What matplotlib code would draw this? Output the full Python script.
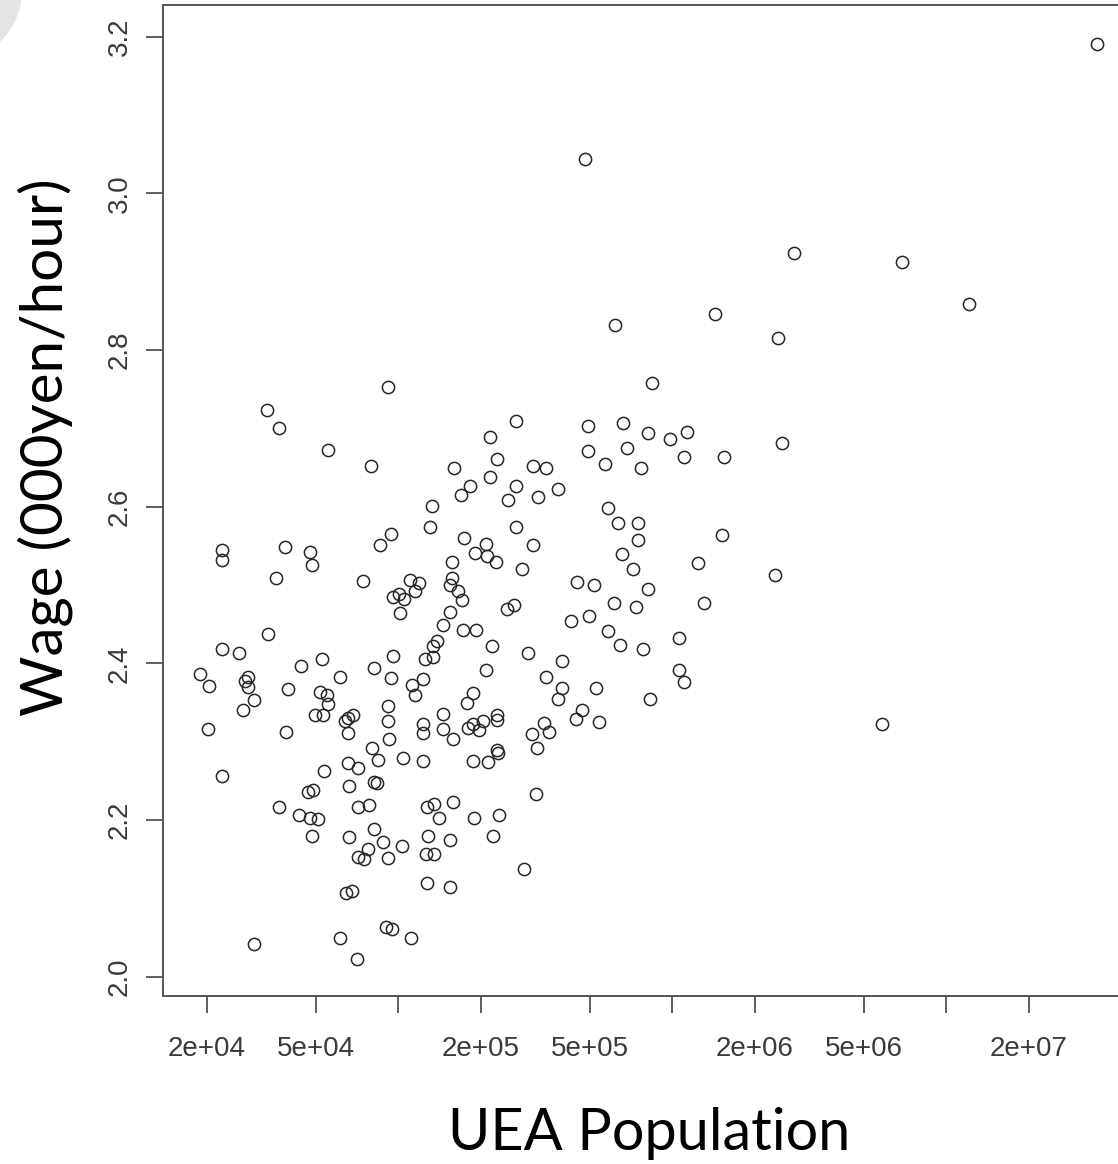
"""
Wage vs UEA population scatter (R base-graphics look).
"""

# IMPORTs alias
import numpy as np
import matplotlib
matplotlib.use('Agg')

# IMPORTs sub
import matplotlib.pyplot as plt
from matplotlib.patches import Circle
from matplotlib.ticker import FixedLocator, FixedFormatter, NullLocator

# DATA
uea_population = [
    3.54e7, 4.80e5, 2.79e6, 6.91e6, 1.21e7, 6.18e5, 1.43e6, 2.44e6, 8.41e5, 9.15e4,
    3.31e4, 3.68e4, 5.52e4, 7.93e4, 2.51e6, 2.68e5, 4.94e5, 6.62e5, 8.17e5, 9.81e5,
    1.128e6, 4.94e5, 6.82e5, 5.68e5, 7.69e5, 1.106e6, 1.544e6, 3.09e5, 3.46e5, 2.68e5,
    2.52e5, 3.24e5, 3.84e5, 5.84e5, 6.32e5, 7.48e5, 7.48e5, 2.68e5, 3.09e5, 6.53e5,
    1.244e6, 7.21e5, 2.82e5, 1.522e6, 4.48e5, 5.19e5, 2.16e5, 2.29e5, 1.596e5, 2.16e5,
    1.827e5, 1.693e5, 1.331e5, 1.305e5, 9.40e4, 8.57e4, 1.741e5, 2.09e5, 1.905e5, 2.10e5,
    2.27e5, 1.574e5, 2.27e4, 2.27e4, 3.86e4, 4.76e4, 4.83e4, 3.57e4, 7.45e4, 1.103e5,
    1.190e5, 1.151e5, 9.59e4, 1.008e5, 1.052e5, 1.014e5, 1.566e5, 1.544e5, 1.656e5, 1.704e5,
    2.49e5, 2.64e5, 1.544e5, 1.460e5, 1.718e5, 1.921e5, 2.19e5, 2.97e5, 1.381e5, 1.335e5,
    1.251e5, 1.341e5, 9.54e4, 8.17e4, 2.09e5, 6.13e4, 9.40e4, 1.119e5, 1.233e5, 1.151e5,
    1.878e5, 1.776e5, 9.19e4, 9.15e4, 9.27e4, 6.39e4, 6.57e4, 6.82e4, 6.53e4, 1.460e5,
    1.233e5, 1.233e5, 1.460e5, 1.579e5, 1.801e5, 1.878e5, 1.975e5, 2.04e5, 2.29e5, 2.30e5,
    3.07e5, 3.20e5, 2.29e5, 2.32e5, 8.00e4, 8.45e4, 1.043e5, 1.233e5, 6.55e4, 7.14e4,
    1.878e5, 2.13e5, 6.61e4, 8.17e4, 8.34e4, 7.14e4, 7.84e4, 1.269e5, 1.353e5, 1.579e5,
    1.411e5, 1.889e5, 2.34e5, 3.18e5, 8.17e4, 6.62e4, 8.81e4, 1.029e5, 7.77e4, 7.14e4,
    7.51e4, 9.15e4, 1.286e5, 1.544e5, 2.22e5, 1.262e5, 1.353e5, 2.88e5, 1.269e5, 1.544e5,
    6.43e4, 6.76e4, 9.02e4, 9.46e4, 1.109e5, 6.14e4, 7.05e4, 2.98e4, 3.35e4, 2.27e4,
    2.63e4, 1.89e4, 2.04e4, 2.83e4, 2.76e4, 2.83e4, 2.98e4, 2.72e4, 4.41e4, 5.28e4,
    3.97e4, 5.18e4, 5.48e4, 5.55e4, 4.97e4, 5.30e4, 2.02e4, 3.89e4, 5.37e4, 2.27e4,
    4.69e4, 4.87e4, 3.67e4, 4.35e4, 4.76e4, 5.08e4, 4.83e4, 6.14e5, 7.37e5, 8.17e5,
    1.308e6, 4.27e5, 4.97e5, 5.84e5, 6.44e5, 7.84e5, 1.058e6, 3.97e5, 3.45e5, 3.97e5,
    3.82e5, 5.27e5, 1.058e6, 1.106e6, 8.29e5, 4.67e5, 4.45e5, 5.41e5, 3.40e5, 3.56e5,
    2.36e6, 5.84e6,
]
wage = [
    3.191, 3.044, 2.924, 2.912, 2.859, 2.832, 2.846, 2.815, 2.758, 2.753,
    2.723, 2.700, 2.672, 2.652, 2.681, 2.709, 2.703, 2.707, 2.694, 2.686,
    2.696, 2.671, 2.675, 2.654, 2.650, 2.663, 2.663, 2.652, 2.650, 2.626,
    2.609, 2.613, 2.622, 2.599, 2.579, 2.579, 2.558, 2.574, 2.551, 2.540,
    2.528, 2.521, 2.521, 2.564, 2.504, 2.500, 2.689, 2.661, 2.650, 2.638,
    2.626, 2.615, 2.601, 2.574, 2.565, 2.551, 2.560, 2.553, 2.541, 2.537,
    2.530, 2.529, 2.545, 2.532, 2.549, 2.542, 2.526, 2.509, 2.505, 2.506,
    2.503, 2.492, 2.485, 2.488, 2.482, 2.464, 2.509, 2.500, 2.492, 2.481,
    2.470, 2.475, 2.465, 2.449, 2.443, 2.443, 2.422, 2.413, 2.428, 2.422,
    2.406, 2.408, 2.409, 2.394, 2.392, 2.383, 2.381, 2.372, 2.380, 2.360,
    2.362, 2.350, 2.345, 2.327, 2.304, 2.327, 2.330, 2.334, 2.311, 2.336,
    2.322, 2.311, 2.316, 2.304, 2.317, 2.323, 2.315, 2.326, 2.334, 2.328,
    2.310, 2.292, 2.289, 2.286, 2.292, 2.277, 2.279, 2.275, 2.273, 2.266,
    2.275, 2.274, 2.243, 2.248, 2.247, 2.217, 2.219, 2.217, 2.220, 2.223,
    2.203, 2.203, 2.206, 2.233, 2.189, 2.178, 2.172, 2.167, 2.163, 2.153,
    2.150, 2.152, 2.180, 2.175, 2.180, 2.157, 2.157, 2.138, 2.120, 2.114,
    2.107, 2.109, 2.064, 2.061, 2.049, 2.049, 2.023, 2.042, 2.438, 2.419,
    2.413, 2.387, 2.371, 2.383, 2.377, 2.370, 2.353, 2.341, 2.397, 2.406,
    2.367, 2.363, 2.360, 2.348, 2.334, 2.334, 2.316, 2.312, 2.263, 2.256,
    2.236, 2.239, 2.217, 2.206, 2.203, 2.201, 2.180, 2.477, 2.472, 2.495,
    2.477, 2.454, 2.461, 2.441, 2.423, 2.418, 2.433, 2.403, 2.383, 2.369,
    2.355, 2.369, 2.392, 2.376, 2.355, 2.340, 2.329, 2.325, 2.324, 2.312,
    2.513, 2.323,
]
x_ticks = [2e4, 5e4, 1e5, 2e5, 5e5, 1e6, 2e6, 5e6, 1e7, 2e7]
x_tick_labels = ['2e+04', '5e+04', '', '2e+05', '5e+05', '', '2e+06', '5e+06', '', '2e+07']
y_ticks = [2.0, 2.2, 2.4, 2.6, 2.8, 3.0, 3.2]
y_tick_labels = ['2.0', '2.2', '2.4', '2.6', '2.8', '3.0', '3.2']

# FIGURE setup
W, H, DPI = 1118, 1164, 100
fig = plt.figure(figsize=(W / DPI, H / DPI), dpi=DPI)
fig.patch.set_facecolor('white')

# faint grey blob in the top-left corner (slide artefact)
fig.patches.append(Circle((-50, H + 10), 72, transform=None, facecolor='#e4e4e4',
                          edgecolor='none', zorder=0))

# axes box runs slightly past the right edge of the picture
left, right, top, bottom = 163, 1133, 5, 996
ax = fig.add_axes([left / W, (H - bottom) / H, (right - left) / W, (bottom - top) / H])

# PLOT
ax.plot(np.array(uea_population), np.array(wage), linestyle='none', marker='o',
        markersize=8.8, markerfacecolor='none', markeredgecolor='#262626',
        markeredgewidth=1.1)

ax.set_xscale('log')
ax.set_xlim(1.384e4, 4.80e7)
ax.set_ylim(1.9754, 3.2405)

# TICKS
tick_font = dict(family='Liberation Sans', size=20, color='#3a3a3a')
ax.xaxis.set_major_locator(FixedLocator(x_ticks))
ax.xaxis.set_major_formatter(FixedFormatter(x_tick_labels))
ax.xaxis.set_minor_locator(NullLocator())
ax.yaxis.set_major_locator(FixedLocator(y_ticks))
ax.yaxis.set_major_formatter(FixedFormatter(y_tick_labels))
ax.tick_params(axis='both', direction='out', length=12, width=1.2, color='#444444')
ax.tick_params(axis='x', pad=17)
ax.tick_params(axis='y', pad=10)
for label in ax.get_xticklabels():
    label.set(**tick_font)
for label in ax.get_yticklabels():
    label.set(**tick_font)
    label.set_rotation(90)
    label.set_va('center')

# FRAME (right side is cut off by the picture edge)
for side in ['left', 'bottom', 'top', 'right']:
    ax.spines[side].set_color('#555555')
    ax.spines[side].set_linewidth(1.4)

# LABELs
label_font = dict(family='Lato', size=41.5, color='black')
fig.text(649 / W, 1 - 1133 / H, 'UEA Population', ha='center', va='center', **label_font)
fig.text(45 / W, 1 - 447 / H, 'Wage (000yen/hour)', ha='center', va='center',
         rotation=90, family='Lato', size=42, color='black')

fig.savefig('out.png', dpi=DPI)
